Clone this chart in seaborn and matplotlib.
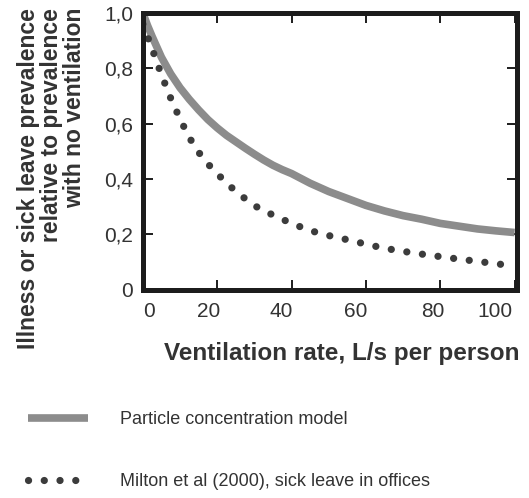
import numpy as np
import pandas as pd
import matplotlib
matplotlib.use("Agg")
import matplotlib.pyplot as plt
import matplotlib.transforms as mtransforms
import seaborn as sns


# DATA

model_x = [0, 1.25, 2.5, 5, 7.5, 10, 12.5, 15, 17.5, 20, 22.5, 25, 27.5,
           30, 32.5, 35, 37.5, 40, 45, 50, 55, 60, 65, 70, 75, 80, 85,
           90, 95, 100]
model_y = [1.00, 0.955, 0.915, 0.84, 0.78, 0.73, 0.688, 0.65, 0.615,
           0.585, 0.558, 0.535, 0.512, 0.49, 0.469, 0.45, 0.434, 0.42,
           0.385, 0.355, 0.33, 0.305, 0.285, 0.268, 0.255, 0.24, 0.23,
           0.22, 0.213, 0.207]

milton_x = [0, 2.5, 5, 7.5, 10, 12.5, 15, 17.5, 20, 25, 30, 35, 40, 45,
            50, 55, 60, 65, 70, 75, 80, 85, 90, 95, 100]
milton_y = [0.96, 0.87, 0.777, 0.692, 0.617, 0.55, 0.497, 0.455, 0.419,
            0.355, 0.304, 0.270, 0.240, 0.214, 0.196, 0.181, 0.165, 0.150,
            0.139, 0.129, 0.120, 0.111, 0.103, 0.094, 0.087]

x_ticks = [0, 20, 40, 60, 80, 100]
y_ticks = [0, 0.2, 0.4, 0.6, 0.8, 1.0]
y_tick_labels = ["0", "0,2", "0,4", "0,6", "0,8", "1,0"]

series_labels = [
    "Particle concentration model",
    "Milton et al (2000), sick leave in offices",
]

x_label = "Ventilation rate, L/s per person"
y_label = ("Illness or sick leave prevalence\n"
           "relative to prevalence\n"
           "with no ventilation")


# STYLE

sns.set_theme(style="ticks")
plt.rcParams["font.family"] = ["Liberation Sans", "DejaVu Sans"]

TEXT_COLOR = "#333333"
MODEL_COLOR = "#8c8c8c"
DOT_COLOR = "#3c3c3c"
SPINE_COLOR = "#1c1c1c"

# small horizontal nudges of the x tick labels (pixels), as in the scan
X_LABEL_SHIFT = [6, -9, -10, -10, -7, -20]


fig = plt.figure(figsize=(5.29, 4.98), dpi=100)
fig.patch.set_facecolor("white")

ax = fig.add_axes([0.270, 0.418, 0.707, 0.556])

df_model = pd.DataFrame({"x": model_x, "y": model_y})
df_milton = pd.DataFrame({"x": milton_x, "y": milton_y})

sns.lineplot(
    data=df_model, x="x", y="y", ax=ax,
    color=MODEL_COLOR, linewidth=5.5
)

sns.lineplot(
    data=df_milton, x="x", y="y", ax=ax,
    color=DOT_COLOR, linewidth=5.2
)

model_line, milton_line = ax.get_lines()[:2]
model_line.set_solid_capstyle("butt")
model_line.set_solid_joinstyle("round")
milton_line.set_linestyle((0, (0.01, 2.17)))
milton_line.set_dash_capstyle("round")

ax.set_xlim(0, 100.6)
ax.set_ylim(0, 1.0)

ax.set_xticks(x_ticks)
ax.set_xticklabels([str(t) for t in x_ticks])
ax.set_yticks(y_ticks)
ax.set_yticklabels(y_tick_labels)

ax.tick_params(
    axis="both", direction="in", length=7, width=1.4,
    colors=SPINE_COLOR, labelcolor=TEXT_COLOR, labelsize=15,
    top=True, right=True
)
ax.tick_params(axis="x", pad=9)
ax.tick_params(axis="y", pad=7)

for lab, dx in zip(ax.get_xticklabels(), X_LABEL_SHIFT):
    offset = mtransforms.ScaledTranslation(dx / 100, 0, fig.dpi_scale_trans)
    lab.set_transform(lab.get_transform() + offset)

for spine in ax.spines.values():
    spine.set_linewidth(3.6)
    spine.set_color(SPINE_COLOR)
    spine.set_visible(True)

ax.set_xlabel(
    x_label, fontsize=17.5, fontweight="bold", color=TEXT_COLOR
)
ax.xaxis.set_label_coords(0.532, -0.19)

ax.set_ylabel(
    y_label, fontsize=16.5, fontweight="bold", color=TEXT_COLOR,
    ha="right", va="center", multialignment="right",
    linespacing=1.0
)
ax.yaxis.set_label_coords(-0.244, 1.018)

fig.legend(
    [model_line, milton_line],
    series_labels,
    loc="upper left",
    bbox_to_anchor=(0.053, 0.175),
    frameon=False,
    fontsize=13,
    labelcolor=TEXT_COLOR,
    handlelength=3.3,
    handletextpad=1.8,
    labelspacing=2.5,
    borderpad=0,
    borderaxespad=0,
)

fig.savefig("out.png", dpi=100, facecolor="white")
